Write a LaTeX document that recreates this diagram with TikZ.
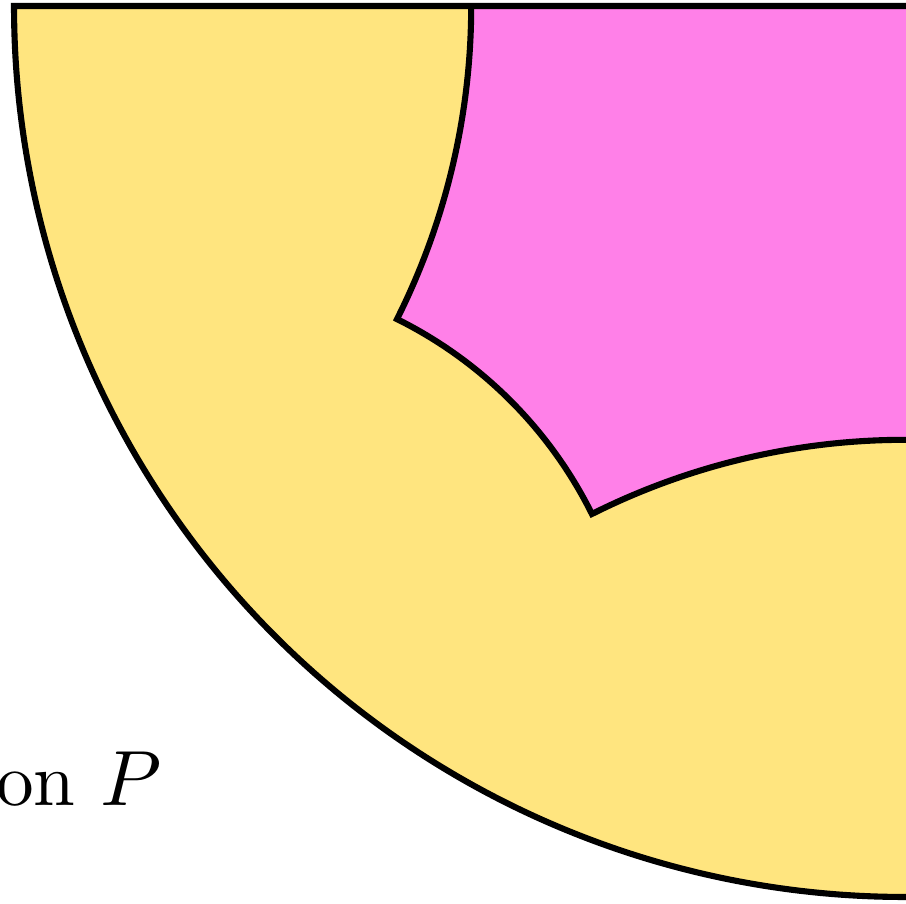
\documentclass[tikz,border=0pt]{standalone}
\usepackage{tikz}
\definecolor{sand}{HTML}{FFE57F}
\definecolor{orchid}{HTML}{FF80E8}

\begin{document}
\begin{tikzpicture}[x=1cm,y=1cm,font=\fontsize{9.6}{11.5}\selectfont,
  edge/.style={black,line width=0.78pt,line join=miter}]
  \useasboundingbox (-4.063,-4.031) rectangle (0.0045,0.027);
  \clip (-4.063,-4.031) rectangle (0.0045,0.027);
  % quarter of the disk
  \fill[sand] (0,0) -- (180:4) arc[start angle=180,end angle=271,radius=4] -- (0.1,-4) -- (0.1,0) -- cycle;
  % the tile bounded by three geodesics
  \fill[orchid] (0.1,0) -- (-1.9475,0)
    arc[start angle=0,end angle=-26.65,radius=3.1339]
    arc[start angle=63.59,end angle=26.41,radius=1.9409]
    arc[start angle=116.65,end angle=88,radius=3.1339] -- (0.1,-1.94) -- cycle;
  \draw[edge] (-1.9475,0)
    arc[start angle=0,end angle=-26.65,radius=3.1339]
    arc[start angle=63.59,end angle=26.41,radius=1.9409]
    arc[start angle=116.65,end angle=88,radius=3.1339];
  % boundary circle and diameter
  \draw[edge] (0.1,0) -- (180:4) arc[start angle=180,end angle=272,radius=4];
  \node[anchor=base east,inner sep=0pt] (lbl) at (-3.33,-3.591) {on $P$};
\end{tikzpicture}
\end{document}
